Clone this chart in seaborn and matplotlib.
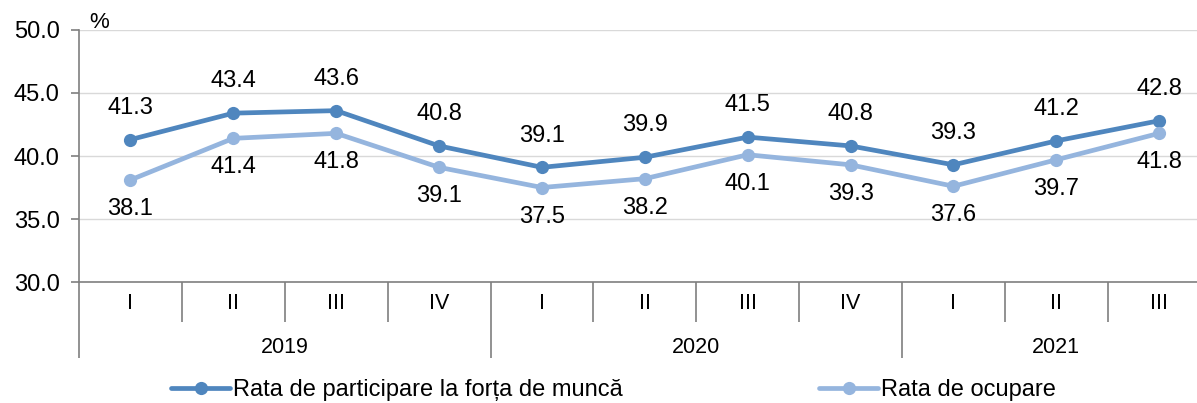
import pandas as pd
import seaborn as sns
import matplotlib.pyplot as plt

quarters = ['I', 'II', 'III', 'IV', 'I', 'II', 'III', 'IV', 'I', 'II', 'III']
years = ['2019', '2020', '2021']
year_sizes = [4, 4, 3]
participare = [41.3, 43.4, 43.6, 40.8, 39.1, 39.9, 41.5, 40.8, 39.3, 41.2, 42.8]
ocupare = [38.1, 41.4, 41.8, 39.1, 37.5, 38.2, 40.1, 39.3, 37.6, 39.7, 41.8]
series_names = ['Rata de participare la forța de muncă', 'Rata de ocupare']
colors = ['#4F86BE', '#95B5DE']


def build_frame():
    rows = []
    for name, vals in zip(series_names, [participare, ocupare]):
        for i, v in enumerate(vals):
            rows.append({'pos': i, 'val': v, 'serie': name})
    return pd.DataFrame(rows)


def main():
    sns.set_style('white')
    plt.rcParams['font.family'] = ['Liberation Sans', 'DejaVu Sans']
    plt.rcParams['text.color'] = 'black'
    plt.rcParams['ytick.color'] = 'black'
    plt.rcParams['xtick.color'] = 'black'
    df = build_frame()

    fig = plt.figure(figsize=(11.97, 4.03), dpi=100)
    ax = fig.add_axes([0.066, 0.3002, 0.9454, 0.6254])
    sns.lineplot(data=df, x='pos', y='val', hue='serie', palette=colors,
                 marker='o', markersize=9.5, markeredgewidth=0, linewidth=3.4,
                 legend=False, ax=ax)

    ax.set_xlim(-0.5, len(quarters) - 0.5)
    ax.set_ylim(30, 50)
    ax.set_yticks([30, 35, 40, 45, 50])
    ax.set_yticklabels([f'{v:.1f}' for v in [30, 35, 40, 45, 50]], fontsize=17)
    ax.yaxis.grid(True, color='#D9D9D9', linewidth=1)
    ax.set_xlabel('')
    ax.set_ylabel('')
    for s in ['top', 'right']:
        ax.spines[s].set_visible(False)
    for s in ['left', 'bottom']:
        ax.spines[s].set_color('#7F7F7F')
        ax.spines[s].set_linewidth(1.2)
    ax.tick_params(axis='y', length=6, width=1.2, color='#7F7F7F', left=True, pad=8)

    # category axis: short separators between quarters, long ones between years
    bounds = []
    acc = 0
    for n in year_sizes:
        bounds.append(acc - 0.5)
        acc += n
    minor = [i + 0.5 for i in range(len(quarters) - 1) if (i + 0.5) not in bounds]
    ax.set_xticks(bounds)
    ax.set_xticklabels([''] * len(bounds))
    ax.set_xticks(minor, minor=True)
    ax.tick_params(axis='x', which='major', length=55, width=1.2,
                   color='#7F7F7F', bottom=True)
    ax.tick_params(axis='x', which='minor', length=29, width=1.2,
                   color='#7F7F7F', bottom=True)

    tr = ax.get_xaxis_transform()
    for i, q in enumerate(quarters):
        ax.text(i, -0.087, q, transform=tr, ha='center', va='center', fontsize=15.5)
    acc = 0
    for y, n in zip(years, year_sizes):
        ax.text(acc + (n - 1) / 2, -0.26, y, transform=tr, ha='center',
                va='center', fontsize=15.5)
        acc += n

    for i, (a, b) in enumerate(zip(participare, ocupare)):
        ax.annotate(f'{a:.1f}', (i, a), xytext=(0, 15), textcoords='offset points',
                    ha='center', va='bottom', fontsize=17)
        ax.annotate(f'{b:.1f}', (i, b), xytext=(0, -13), textcoords='offset points',
                    ha='center', va='top', fontsize=17)

    fig.text(0.083, 0.943, '%', fontsize=16, ha='center', va='center')

    handles = ax.lines[:2]
    fig.legend(handles, series_names, loc='center left',
               bbox_to_anchor=(0.143, 0.032), ncol=2, frameon=False,
               fontsize=17, handlelength=2.5, handletextpad=0.1,
               columnspacing=8.35, borderaxespad=0, borderpad=0)

    fig.savefig('out.png', dpi=100)


if __name__ == "__main__":
    main()
